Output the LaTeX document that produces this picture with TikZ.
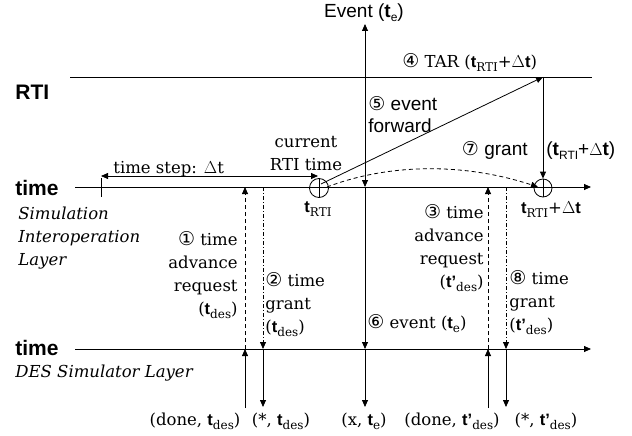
\documentclass[tikz,border=0pt]{standalone}
\usepackage{fontspec}
\setmainfont{DejaVu Serif}
\setsansfont{Liberation Sans}
\newfontfamily\symf{DejaVu Sans}
\usetikzlibrary{arrows.meta}
\newcommand\tB{{\sffamily\bfseries t}}
\newcommand\lsub[1]{\raisebox{-4pt}{\fontsize{12}{12}\selectfont #1}}
\newcommand\tdes{\tB\lsub{des}}
\newcommand\tpdes{{\sffamily\bfseries t'}\lsub{des}}
\newcommand\trti{\tB\lsub{RTI}}
\newcommand\tE{\tB\lsub{e}}
\newcommand\cn[1]{{\symf\fontsize{19}{23}\selectfont #1}}
\begin{document}
\begin{tikzpicture}[x=1pt,y=-1pt, line width=0.8pt,
  tip/.style={-{Triangle[length=7pt,width=6pt]}},
  ser/.style={font=\fontsize{16.5}{23}\selectfont, inner sep=0pt},
  seri/.style={font=\itshape\fontsize{16.5}{23}\selectfont, inner sep=0pt},
  san/.style={font=\sffamily\fontsize{19}{22}\selectfont, inner sep=0pt},
  big/.style={font=\sffamily\bfseries\fontsize{21}{24}\selectfont, inner sep=0pt},
  dsh/.style={dash pattern=on 4pt off 3pt},
  dashdot/.style={dash pattern=on 4pt off 2pt on 1pt off 2pt}]
\useasboundingbox (0,0) rectangle (632,436);

% main lines
\coordinate (rtiL) at (70,77);   \coordinate (rtiR) at (592,77);
\coordinate (midL) at (75,187);  \coordinate (midR) at (591,187);
\coordinate (botL) at (75,349);  \coordinate (botR) at (591,349);
\draw (rtiL) -- (rtiR);
\draw[tip] (midL) -- (midR);
\draw[tip] (botL) -- (botR);

% left labels
\node[big, anchor=west] (lRTI) at (15,92) {RTI};
\node[big, anchor=west] (lt1) at (15,188) {time};
\node[big, anchor=west] (lt2) at (15,348) {time};
\node[seri, anchor=north west, align=left] (sil) at (18,207) {Simulation\\Interoperation\\Layer};
\node[seri, anchor=west] (desl) at (15,373) {DES Simulator Layer};

% time step
\coordinate (tsL) at (101,176); \coordinate (tsR) at (318,176);
\draw (101,178) -- (101,197);
\draw[{Triangle[length=7pt,width=6pt]}-{Triangle[length=7pt,width=6pt]}] (tsL) -- (tsR);
\node[ser, anchor=base west] (ts) at (113,173) {time step: $\Delta$t};

% circles
\node[circle, draw, minimum size=19pt, inner sep=0pt] (c1) at (319,188) {};
\draw (319,178) -- (319,197);
\node[circle, draw, minimum size=18pt, inner sep=0pt] (c2) at (543,188) {};
\draw (543,179) -- (543,197);
\node[ser, anchor=base] (trl) at (318,212) {\trti};
\node[ser, anchor=base] (trr) at (551,213) {\trti+$\Delta$\tB};
\node[ser, anchor=north, align=center] (cur) at (306,136) {current\\RTI time};

% event line
\node[san, anchor=base] (ev) at (364,18) {Event (\tE)};
\coordinate (eT) at (365,24); \coordinate (eM) at (365,187);
\coordinate (eB) at (365,349); \coordinate (eE) at (365,407);
\draw[{Triangle[length=7pt,width=6pt]}-{Triangle[length=7pt,width=6pt]}] (eT) -- (eM);
\draw[tip] (eM) -- (eB);
\draw[tip] (eB) -- (eE);

% TAR
\coordinate (tarE) at (543,77);
\draw[tip] (321,184) -- (tarE);
\node[ser, anchor=base west] (tar) at (402,68) {\cn{④} TAR (\trti+$\Delta$\tB)};
\node[san, anchor=north west, align=left] (ef) at (368,96) {\cn{⑤} event\\forward};

% grant
\draw[tip] (tarE) -- (c2.north);
\node[san, anchor=base east] (gr) at (528,155) {\cn{⑦} grant};
\node[san, anchor=base west] (grv) at (546,155) {(\trti+$\Delta$\tB)};

% dashed curve
\draw[dsh, tip] (327,187) .. controls (390,163) and (465,163) .. (538,187);

% 1 and 2
\draw[dsh, tip] (245,349) -- (245,187);
\draw[tip] (245,408) -- (245,349);
\draw[dashdot, tip] (263,187) -- (263,349);
\draw[tip] (263,349) -- (263,407);
\node[ser, anchor=north east, align=right] (l1) at (238,231) {\cn{①} time\\advance\\request\\(\tdes)};
\node[ser, anchor=north west, align=left] (l2) at (265,272) {\cn{②} time\\grant\\(\tdes)};

% 3 and 8
\draw[dsh, tip] (488,349) -- (488,187);
\draw[tip] (488,408) -- (488,349);
\draw[dashdot, tip] (506,187) -- (506,349);
\draw[tip] (506,349) -- (506,407);
\node[ser, anchor=north east, align=right] (l3) at (484,204) {\cn{③} time\\advance\\request\\(\tpdes)};
\node[ser, anchor=north west, align=left] (l8) at (509,270) {\cn{⑧} time\\grant\\(\tpdes)};

% 6
\node[ser, anchor=base west] (l6) at (367,328) {\cn{⑥} event (\tE)};

% bottom labels
\node[ser, anchor=base] (b1) at (195,425) {(done, \tdes)};
\node[ser, anchor=base] (b2) at (281,425) {(*, \tdes)};
\node[ser, anchor=base] (b3) at (364,425) {(x, \tE)};
\node[ser, anchor=base] (b4) at (452,425) {(done, \tpdes)};
\node[ser, anchor=base] (b5) at (546,425) {(*, \tpdes)};
\end{tikzpicture}
\end{document}
